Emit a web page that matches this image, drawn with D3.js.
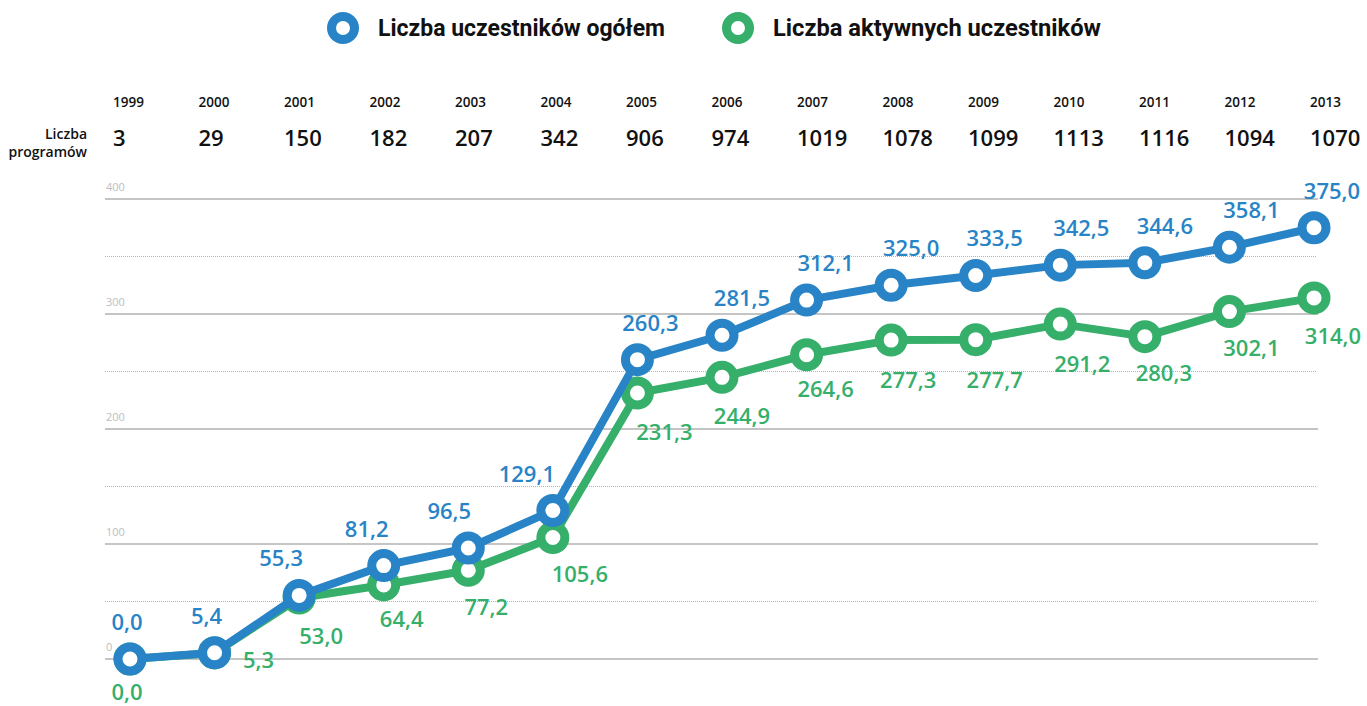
<!DOCTYPE html>
<html>
<head>
<meta charset="utf-8">
<script src="https://cdn.jsdelivr.net/npm/d3@7"></script>
<style>
  body { margin: 0; background: #fff; }
  svg { display: block; font-family: "Open Sans", "Noto Sans", sans-serif; }
</style>
</head>
<body>
<svg id="chart"></svg>
<script>
// data
let years = ["1999", "2000", "2001", "2002", "2003", "2004", "2005", "2006", "2007", "2008", "2009", "2010", "2011", "2012", "2013"];
let programs = [3, 29, 150, 182, 207, 342, 906, 974, 1019, 1078, 1099, 1113, 1116, 1094, 1070];
let allParticipants = [0.0, 5.4, 55.3, 81.2, 96.5, 129.1, 260.3, 281.5, 312.1, 325.0, 333.5, 342.5, 344.6, 358.1, 375.0];
let activeParticipants = [0.0, 5.3, 53.0, 64.4, 77.2, 105.6, 231.3, 244.9, 264.6, 277.3, 277.7, 291.2, 280.3, 302.1, 314.0];
let gridTicks = [0, 100, 200, 300, 400];
let halfTicks = [50, 150, 250, 350];
let seriesNames = ["Liczba uczestników ogółem", "Liczba aktywnych uczestników"];

// label nudges (layout only)
let blueDx = [-3, -8, -18, -17, -19, -26, 13, 20, 19, 20, 19, 21, 20, 22, 18];
let greenDx = [-3, 44, 22, 18, 18, 27, 27, 20, 19, 17, 19, 22, 19, 22, 19];
let greenDy = [33, 7, 38, 34, 37, 36, 39, 39, 34, 40, 40, 40, 36, 36, 38];

let width = 1367;
let height = 706;
let blue = "#2884c6";
let green = "#36af6b";

let svg = d3.select("#chart").attr("width", width).attr("height", height);

let xScale = d3.scalePoint().domain(years).range([130, 1314]);
let colScale = d3.scalePoint().domain(years).range([113, 1310]);
let yScale = d3.scaleLinear().domain([0, 400]).range([659, 199]);

let fmt = (v) => v.toFixed(1).replace(".", ",");

// grid
let grid = svg.append("g");
grid.selectAll(".half")
  .data(halfTicks)
  .enter()
  .append("line")
  .attr("x1", 105).attr("x2", 1316)
  .attr("y1", (d) => yScale(d)).attr("y2", (d) => yScale(d))
  .attr("stroke", "#b5b5b5")
  .attr("stroke-width", 1)
  .attr("stroke-dasharray", "1,1");

grid.selectAll(".full")
  .data(gridTicks)
  .enter()
  .append("line")
  .attr("x1", 105).attr("x2", 1318)
  .attr("y1", (d) => yScale(d)).attr("y2", (d) => yScale(d))
  .attr("stroke", (d) => d === 300 || d === 200 ? "#b0b0b0" : "#8c8c8c")
  .attr("stroke-width", (d) => d === 300 || d === 200 ? 1.6 : 1.2);

grid.selectAll("text")
  .data(gridTicks)
  .enter()
  .append("text")
  .attr("x", 106)
  .attr("y", (d) => yScale(d) - 8)
  .attr("font-size", 11)
  .attr("fill", "#bdbdbd")
  .text((d) => d);

// top rows
svg.selectAll(".year")
  .data(years)
  .enter()
  .append("text")
  .attr("x", (d) => colScale(d))
  .attr("y", 107)
  .attr("font-size", 13.5)
  .attr("font-weight", 600)
  .attr("fill", "#111")
  .text((d) => d);

svg.selectAll(".prog")
  .data(programs)
  .enter()
  .append("text")
  .attr("x", (d, i) => colScale(years[i]))
  .attr("y", 146)
  .attr("font-size", 22)
  .attr("font-weight", 600)
  .attr("fill", "#111")
  .text((d) => d);

svg.append("text")
  .attr("x", 87).attr("y", 139)
  .attr("text-anchor", "end")
  .attr("font-size", 14).attr("font-weight", 600).attr("fill", "#111")
  .text("Liczba");
svg.append("text")
  .attr("x", 87).attr("y", 157)
  .attr("text-anchor", "end")
  .attr("font-size", 14).attr("font-weight", 600).attr("fill", "#111")
  .text("programów");

// lines
let line = d3.line()
  .x((d, i) => xScale(years[i]))
  .y((d) => yScale(d));

let drawSeries = (values, color) => {
  let g = svg.append("g");
  g.append("path")
    .datum(values)
    .attr("d", line)
    .attr("fill", "none")
    .attr("stroke", color)
    .attr("stroke-width", 8)
    .attr("stroke-linejoin", "round");
  g.selectAll("circle")
    .data(values)
    .enter()
    .append("circle")
    .attr("cx", (d, i) => xScale(years[i]))
    .attr("cy", (d) => yScale(d))
    .attr("r", 12)
    .attr("fill", "#fff")
    .attr("stroke", color)
    .attr("stroke-width", 9);
  return g;
};

drawSeries(activeParticipants, green);
drawSeries(allParticipants, blue);

// value labels
svg.append("g").selectAll("text")
  .data(activeParticipants)
  .enter()
  .append("text")
  .attr("x", (d, i) => xScale(years[i]) + greenDx[i])
  .attr("y", (d, i) => yScale(d) + greenDy[i] + 8)
  .attr("text-anchor", "middle")
  .attr("font-size", 22)
  .attr("font-weight", 600)
  .attr("fill", green)
  .text((d) => fmt(d));

svg.append("g").selectAll("text")
  .data(allParticipants)
  .enter()
  .append("text")
  .attr("x", (d, i) => xScale(years[i]) + blueDx[i])
  .attr("y", (d) => yScale(d) - 37 + 8)
  .attr("text-anchor", "middle")
  .attr("font-size", 22)
  .attr("font-weight", 600)
  .attr("fill", blue)
  .text((d) => fmt(d));

// legend
let legendX = [343, 738];
let legend = svg.append("g")
  .selectAll("g")
  .data(seriesNames)
  .enter()
  .append("g")
  .attr("transform", (d, i) => "translate(" + legendX[i] + ",28)");

legend.append("circle")
  .attr("r", 11.5)
  .attr("fill", "#fff")
  .attr("stroke", (d, i) => i === 0 ? blue : green)
  .attr("stroke-width", 9);

legend.append("text")
  .attr("x", 35)
  .attr("y", 8)
  .attr("font-family", "'Liberation Sans Narrow', 'Roboto', sans-serif")
  .attr("font-size", 23)
  .attr("font-weight", 700)
  .attr("fill", "#111")
  .attr("textLength", (d, i) => i === 0 ? 287 : 328)
  .attr("lengthAdjust", "spacingAndGlyphs")
  .text((d) => d);
</script>
</body>
</html>
